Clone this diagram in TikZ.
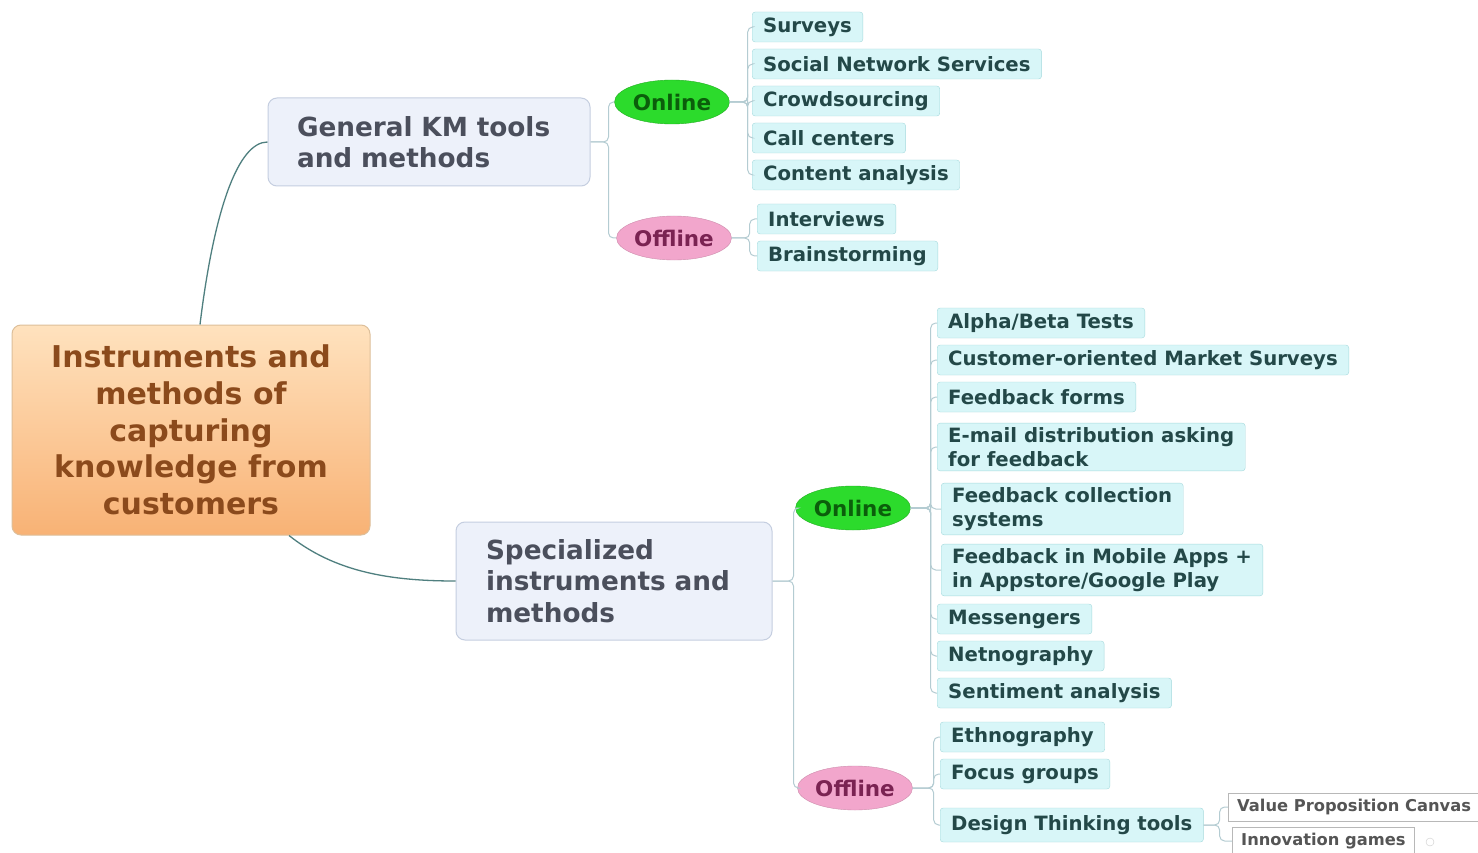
\documentclass[tikz,border=0pt]{standalone}
\usepackage{fontspec}
\setmainfont{DejaVu Sans}
\usetikzlibrary{shapes.geometric}
\definecolor{roottop}{HTML}{FFE2BE}
\definecolor{rootbot}{HTML}{F8B275}
\definecolor{rootborder}{HTML}{DDBF9A}
\definecolor{roottext}{HTML}{8B4A1C}
\definecolor{brfill}{HTML}{EDF1FA}
\definecolor{brborder}{HTML}{C5CEE0}
\definecolor{brtext}{HTML}{4B4F5C}
\definecolor{onfill}{HTML}{2CDB2C}
\definecolor{ontext}{HTML}{0B5E0B}
\definecolor{offfill}{HTML}{F2A6CC}
\definecolor{offtext}{HTML}{7A2352}
\definecolor{leaffill}{HTML}{D8F6F8}
\definecolor{leafborder}{HTML}{A6DADD}
\definecolor{leaftext}{HTML}{234848}
\definecolor{sublink}{HTML}{B4CCD2}
\definecolor{mainlink}{HTML}{4F7F7F}
\definecolor{subborder}{HTML}{B8B8B8}
\definecolor{subtext}{HTML}{555555}
\begin{document}
\begin{tikzpicture}[x=1pt,y=-1pt,
  rootbox/.style={draw=rootborder, line width=1pt, rounded corners=9, top color=roottop, bottom color=rootbot,
    minimum width=358, minimum height=210, align=center, text=roottext,
    font=\bfseries\fontsize{30}{36.7}\selectfont},
  branchbox/.style={draw=brborder, line width=1pt, fill=brfill, rounded corners=9, align=left, text=brtext,
    inner xsep=29, font=\bfseries\fontsize{26.3}{31.5}\selectfont},
  onell/.style={ellipse, fill=onfill, draw=onfill!80!black, minimum width=115, minimum height=44, inner sep=0,
    text=ontext, font=\bfseries\fontsize{21.5}{24}\selectfont},
  offell/.style={ellipse, fill=offfill, draw=offfill!85!black, minimum width=115, minimum height=44, inner sep=0,
    text=offtext, font=\bfseries\fontsize{21.5}{24}\selectfont},
  leafbox/.style={draw=leafborder, fill=leaffill, rounded corners=3, anchor=west, align=left, text=leaftext,
    inner xsep=11, inner ysep=4, minimum height=30, font=\bfseries\fontsize{19.7}{24.5}\selectfont},
  subbox/.style={draw=subborder, fill=white, anchor=west, align=left, text=subtext,
    inner xsep=9, inner ysep=3, minimum height=28, font=\bfseries\fontsize{16.3}{20}\selectfont},
  link/.style={draw=sublink, line width=1pt, rounded corners=5},
  mainline/.style={draw=mainlink, line width=1.3pt}
]
\useasboundingbox (0,0) rectangle (1478,853);
\fill[white] (0,0) rectangle (1478,853);

% main nodes
\node[rootbox] (root) at (191,430) {Instruments and\\methods of\\capturing\\knowledge from\\customers};
\node[branchbox, text width=264, minimum height=88] (gen) at (429,142) {General KM tools\\and methods};
\node[branchbox, text width=256, inner xsep=30, minimum height=118] (spec) at (614,581) {Specialized\\instruments and\\methods};

\node[onell] (on1) at (672,102) {Online};
\node[offell] (off1) at (674,238) {Offline};
\node[onell] (on2) at (853,508) {Online};
\node[offell] (off2) at (855,788) {Offline};

% top leaves
\node[leafbox] (l1) at (752,27) {Surveys};
\node[leafbox] (l2) at (752,64) {Social Network Services};
\node[leafbox] (l3) at (752,101) {Crowdsourcing};
\node[leafbox] (l4) at (752,138) {Call centers};
\node[leafbox] (l5) at (752,175) {Content analysis};
\node[leafbox] (l6) at (757,219) {Interviews};
\node[leafbox] (l7) at (757,256) {Brainstorming};

% bottom online leaves
\node[leafbox] (m1) at (937,323) {Alpha/Beta Tests};
\node[leafbox] (m2) at (937,360) {Customer-oriented Market Surveys};
\node[leafbox] (m3) at (937,397) {Feedback forms};
\node[leafbox] (m4) at (937,447) {E-mail distribution asking\\for feedback};
\node[leafbox] (m5) at (941,509) {Feedback collection\\systems};
\node[leafbox] (m6) at (941,570) {Feedback in Mobile Apps +\\in Appstore/Google Play};
\node[leafbox] (m7) at (937,619) {Messengers};
\node[leafbox] (m8) at (937,656) {Netnography};
\node[leafbox] (m9) at (937,693) {Sentiment analysis};

% bottom offline leaves
\node[leafbox] (n1) at (940,737) {Ethnography};
\node[leafbox] (n2) at (940,774) {Focus groups};
\node[leafbox, minimum height=34] (n3) at (940,825) {Design Thinking tools};

\node[subbox] (s1) at (1228,807) {Value Proposition Canvas};
\node[subbox] (s2) at (1232,841) {Innovation games};
\node[circle, draw=subborder!70, fill=white, minimum size=8, inner sep=0] (smark) at (1430,842) {};

% main curves
\draw[mainline] ([xshift=9pt]root.north) .. controls (214,210) and (238,142) .. (gen.west);
\draw[mainline] ([xshift=98pt]root.south) .. controls (335,572) and (390,581) .. (spec.west);

% brackets
\foreach \c in {on1,off1} \draw[link] (gen.east) -- ++(18,0) |- (\c.west);
\foreach \c in {on2,off2} \draw[link] (spec.east) -- ++(21,0) |- (\c.west);
\foreach \c in {l1,l2,l3,l4,l5} \draw[link] (on1.east) -- ++(18,0) |- (\c.west);
\foreach \c in {l6,l7} \draw[link] (off1.east) -- ++(18,0) |- (\c.west);
\foreach \c in {m1,m2,m3,m4,m5,m6,m7,m8,m9} \draw[link] (on2.east) -- ++(20,0) |- (\c.west);
\foreach \c in {n1,n2,n3} \draw[link] (off2.east) -- ++(21,0) |- (\c.west);
\foreach \c in {s1,s2} \draw[link] (n3.east) -- ++(16,0) |- (\c.west);
\end{tikzpicture}
\end{document}
